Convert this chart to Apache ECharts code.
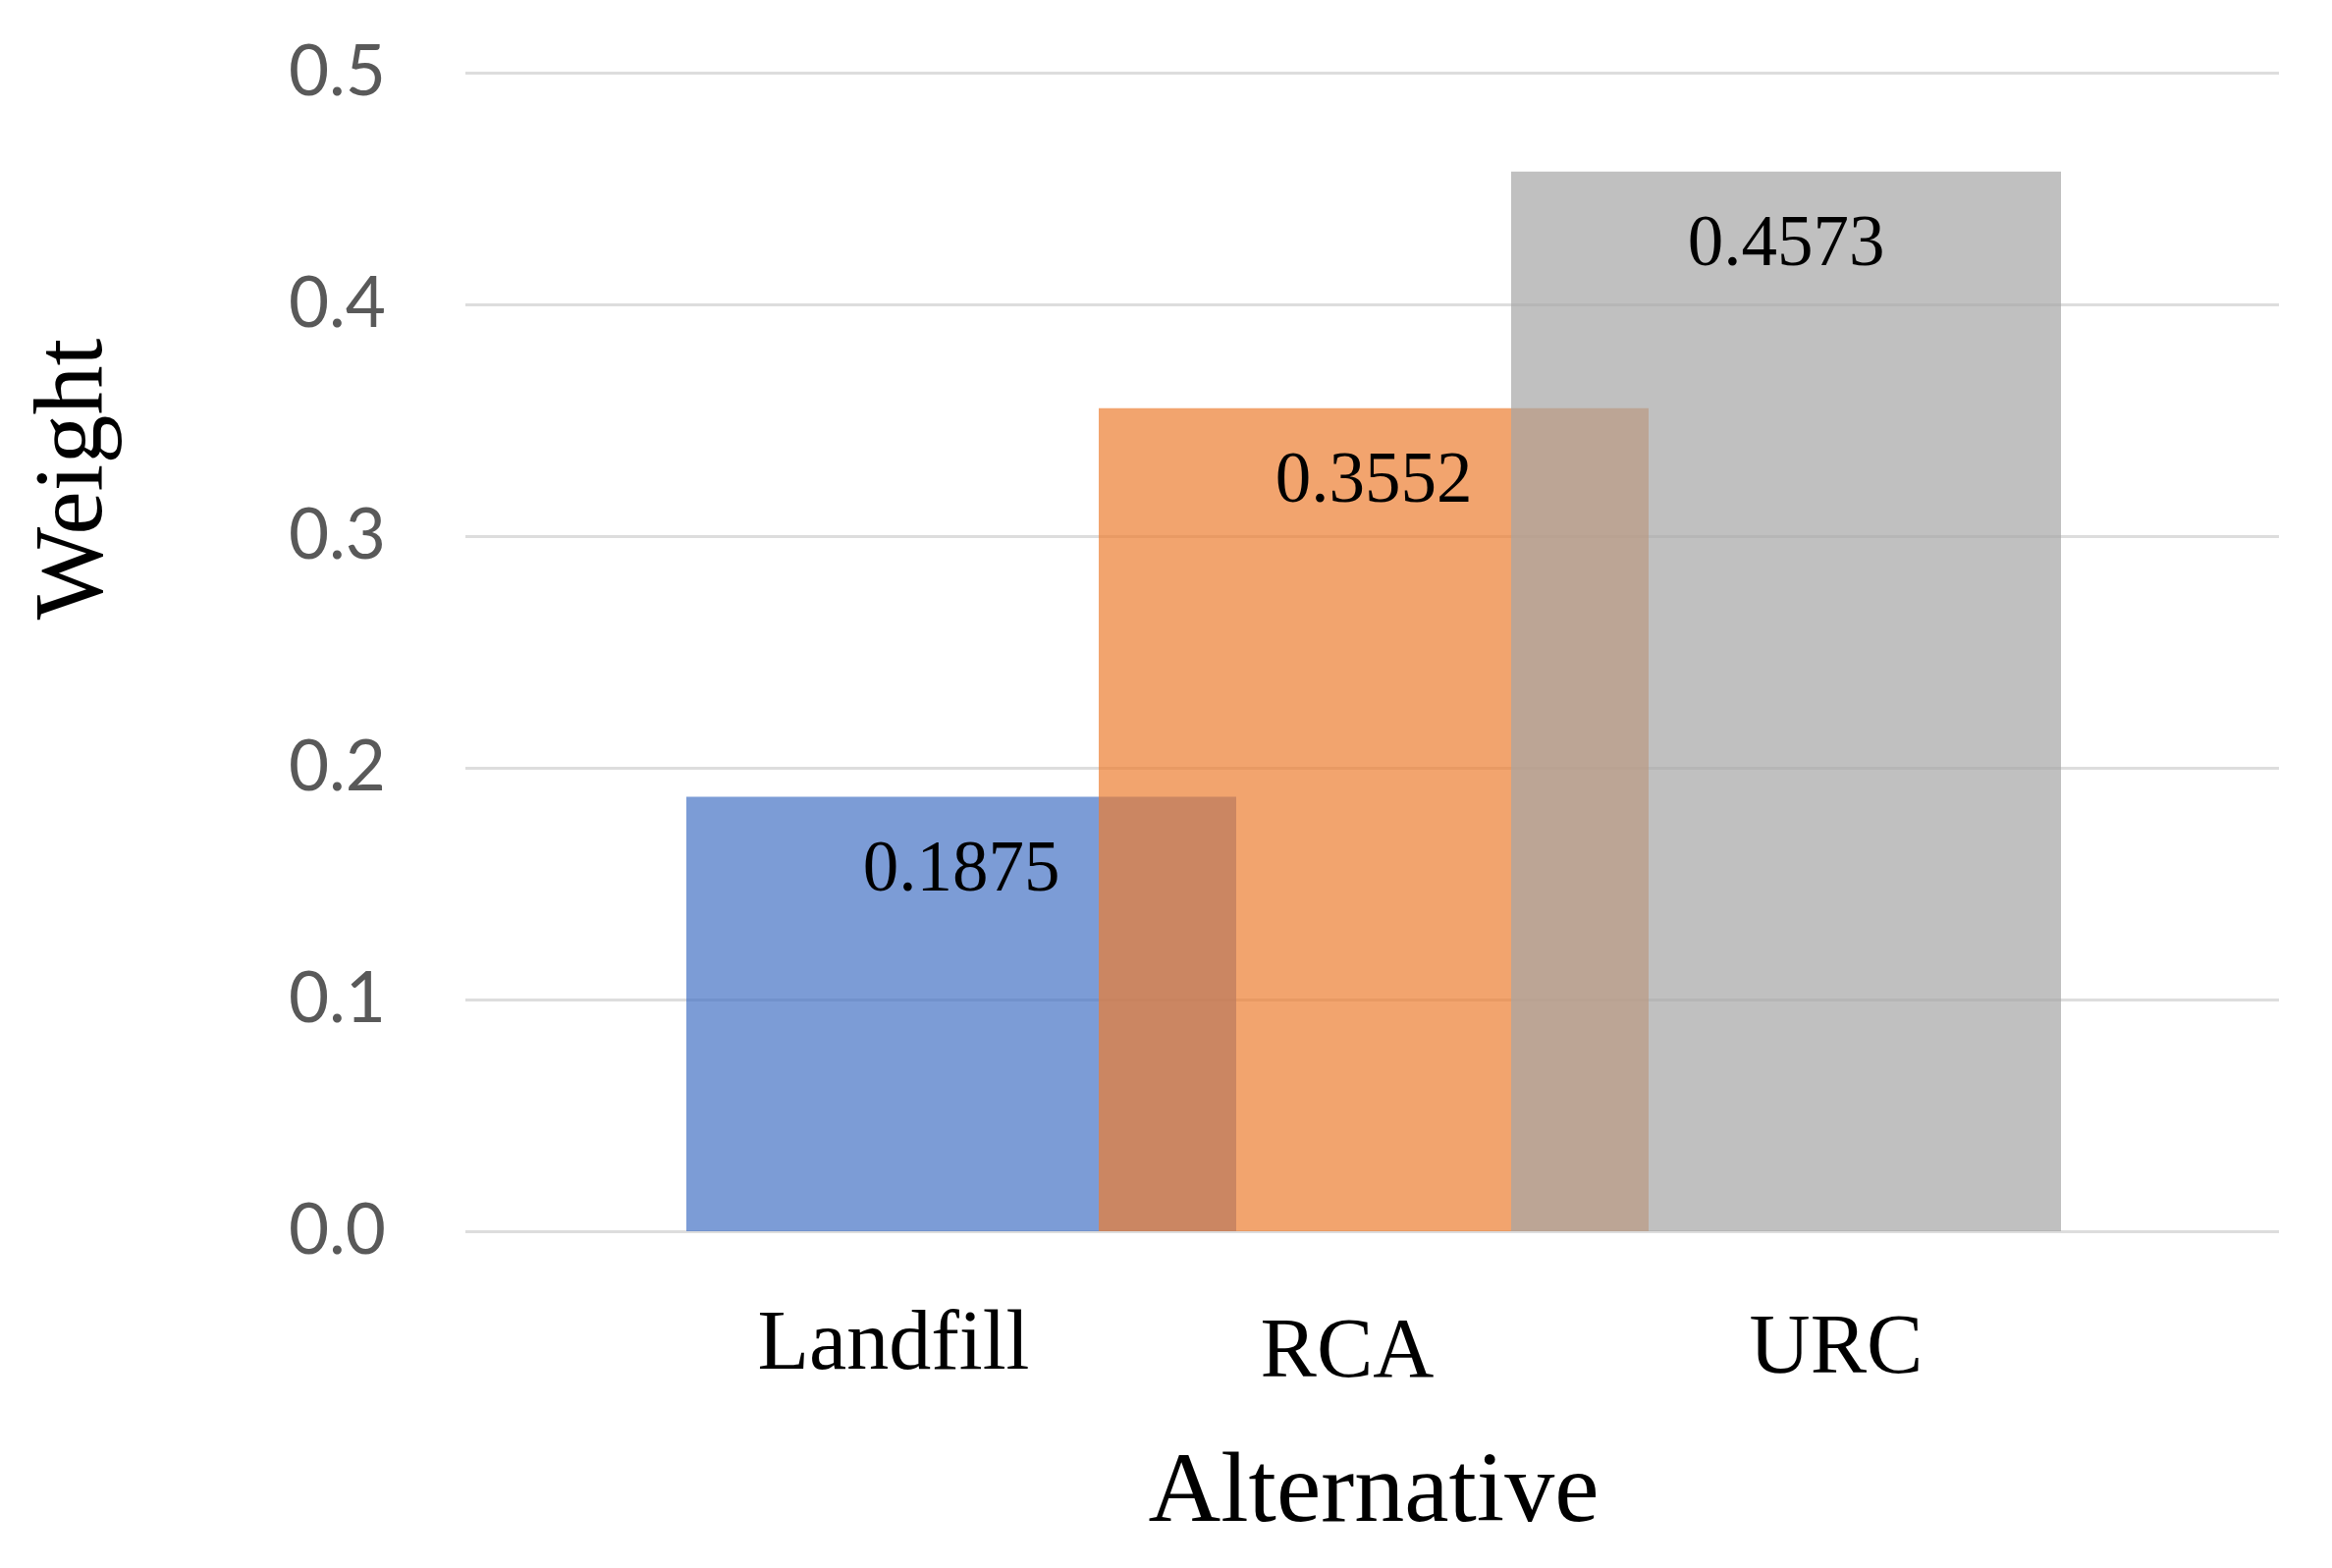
<!DOCTYPE html>
<html>
<head>
<meta charset="utf-8">
<script src="https://cdn.jsdelivr.net/npm/echarts@6/dist/echarts.min.js"></script>
<style>
  html, body { margin: 0; padding: 0; background: #ffffff; }
  #chart { width: 2375px; height: 1597px; }
</style>
</head>
<body>
<div id="chart"></div>
<script>
const categories = ['Landfill', 'RCA', 'URC'];
const weights = [0.1875, 0.3552, 0.4573];
const yTicks = [0.0, 0.1, 0.2, 0.3, 0.4, 0.5];

const palette = ['rgba(68,114,196,0.7)', 'rgba(237,125,49,0.7)', 'rgba(165,165,165,0.7)'];
const labelKeys = ['c0', 'c1', 'c2'];

const chart = echarts.init(document.getElementById('chart'), null, { renderer: 'canvas' });

const serif = '"Liberation Serif", "DejaVu Serif", serif';

const option = {
  backgroundColor: '#ffffff',
  animation: false,
  grid: [
    { left: 474, right: 54, top: 74, bottom: 343, containLabel: false, outerBoundsMode: 'none' },
    { left: 769, width: 1260, top: 74, bottom: 343, containLabel: false, outerBoundsMode: 'none' }
  ],
  xAxis: [
    { type: 'category', gridIndex: 0, data: categories, show: false },
    {
      type: 'category', gridIndex: 1, data: categories,
      axisLine: { show: false }, axisTick: { show: false },
      axisLabel: {
        margin: 74,
        formatter: function (v, i) { return '{' + labelKeys[i] + '|' + v + '}'; },
        rich: {
          c0: { fontFamily: serif, fontSize: 86, color: '#000000', padding: [0, 138, 0, 0] },
          c1: { fontFamily: serif, fontSize: 86, color: '#000000', padding: [8, 54, 0, 0] },
          c2: { fontFamily: serif, fontSize: 86, color: '#000000', padding: [4, 0, 0, 102] }
        }
      },
      name: 'Alternative',
      nameLocation: 'middle',
      nameGap: 217,
      nameTextStyle: { fontFamily: serif, fontSize: 102, color: '#000000' }
    }
  ],
  yAxis: [
    {
      type: 'value', gridIndex: 0, min: 0, max: 0.5, interval: 0.1,
      axisLine: { show: false }, axisTick: { show: false },
      splitLine: { show: true, lineStyle: { color: '#DDDDDD', width: 3 } },
      axisLabel: {
        margin: 81,
        fontFamily: 'Lato, "Open Sans", sans-serif',
        fontSize: 71,
        color: '#595959',
        formatter: function (v) { return v.toFixed(1); }
      },
      name: 'Weight',
      nameLocation: 'middle',
      nameGap: 347,
      nameRotate: 90,
      nameTextStyle: { fontFamily: serif, fontSize: 100, color: '#000000', padding: [0, 0, 0, 352] }
    },
    {
      type: 'value', gridIndex: 1, min: 0, max: 0.5, interval: 0.1, show: false,
      splitLine: { show: false }
    }
  ],
  series: [
    {
      type: 'bar',
      xAxisIndex: 1,
      yAxisIndex: 1,
      barWidth: 560,
      clip: false,
      data: weights.map(function (v, i) {
        return { value: v, itemStyle: { color: palette[i] } };
      }),
      label: {
        show: true,
        position: 'insideTop',
        distance: 40,
        fontFamily: serif,
        fontSize: 73,
        color: '#000000',
        formatter: function (p) { return p.value.toFixed(4); }
      }
    }
  ]
};

chart.setOption(option);
</script>
</body>
</html>
